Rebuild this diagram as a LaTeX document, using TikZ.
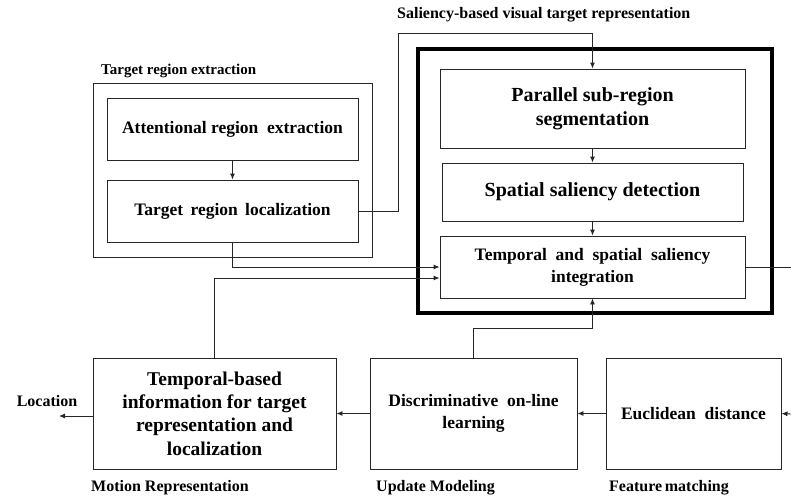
\documentclass[tikz,border=0pt]{standalone}
\usepackage{fontspec}
\setmainfont{Liberation Serif}
\usetikzlibrary{arrows.meta,calc}
\begin{document}
\begin{tikzpicture}[x=1pt,y=-1pt,
  thin/.style={draw=black!85,line width=0.9pt},
  box/.style={thin,rectangle,inner sep=0pt,align=center,font=\bfseries\fontsize{17.5}{22}\selectfont},
  bigtext/.style={font=\bfseries\fontsize{20}{24}\selectfont},
  bottomtext/.style={font=\bfseries\fontsize{19.5}{23.3}\selectfont},
  lbl/.style={inner sep=0pt,font=\bfseries\fontsize{16}{19}\selectfont},
  conn/.style={thin,-{Latex[length=6pt,width=5pt]}},
  plain/.style={thin}]
\useasboundingbox (0,0) rectangle (791,499);
% target region extraction
\node[box,minimum width=279pt,minimum height=174pt] (tre) at (232.5,170) {};
\node[lbl,anchor=west,font=\bfseries\fontsize{15}{18}\selectfont] (trelbl) at (101,71) {Target region extraction};
\node[box,minimum width=251pt,minimum height=62pt] (are) at (232.5,129) {Attentional region\ \ extraction};
\node[box,minimum width=251pt,minimum height=62pt] (trl) at (232.5,211) {Target\ \,region\ \,localization};
% saliency block
\node[draw=black,line width=4pt,rectangle,minimum width=354.5pt,minimum height=264pt,inner sep=0pt] (big) at (594.75,181) {};
\node[lbl,anchor=west] (sallbl) at (397,15) {Saliency-based visual target representation};
\node[box,bigtext,minimum width=305pt,minimum height=79pt] (pss) at (592.5,108.5) {Parallel sub-region\\segmentation};
\node[box,bigtext,minimum width=301pt,minimum height=58pt] (ssd) at (592.5,192) {Spatial saliency detection};
\node[box,minimum width=305pt,minimum height=62pt] (tsi) at (592.5,267) {Temporal\ \ and\ \ spatial\ \ saliency\\integration};
% bottom row
\node[box,bottomtext,minimum width=243pt,minimum height=111pt] (tbi) at (214.5,413.5) {Temporal-based\\information for target\\representation and\\localization};
\node[box,minimum width=207pt,minimum height=111pt] (dol) at (473.5,413.5) {Discriminative\ \ on-line\\learning};
\node[box,minimum width=175pt,minimum height=111pt] (euc) at (693.5,413.5) {Euclidean\ \ distance};
\node[lbl,anchor=west] (mrl) at (91,488) {Motion Representation};
\node[lbl,anchor=west] (uml) at (376,488) {Update Modeling};
\node[lbl,anchor=west] (fml) at (609,488) {Feature\,matching};
\node[lbl] (loc) at (47,401) {Location};
% coordinates
\coordinate (c1) at (398,211);
\coordinate (c2) at (398,33);
\coordinate (c3) at (592.5,33);
\coordinate (outr) at (791,267);
\coordinate (inr) at (791,414);
\coordinate (locend) at (59,416);
\coordinate (c4) at (473.5,328);
% connectors
\draw[conn] (are.south) -- (trl.north);
\draw[conn] (trl.east) -- (c1) -- (c2) -- (c3) -- (pss.north);
\draw[conn] (pss.south) -- (ssd.north);
\draw[conn] (ssd.south) -- (tsi.north);
\draw[conn] (trl.south) |- (tsi.west);
\draw[conn] (tbi.north) |- ($(tsi.west)+(0,11)$);
\draw[plain] (tsi.east) -- (outr);
\draw[conn] (dol.north) -- (c4) -| (tsi.south);
\draw[conn] (euc.west) -- (dol.east);
\draw[conn] (dol.west) -- (tbi.east);
\draw[conn] (tbi.west |- locend) -- (locend);
\draw[conn] (inr) -- (euc.east);
\end{tikzpicture}
\end{document}
